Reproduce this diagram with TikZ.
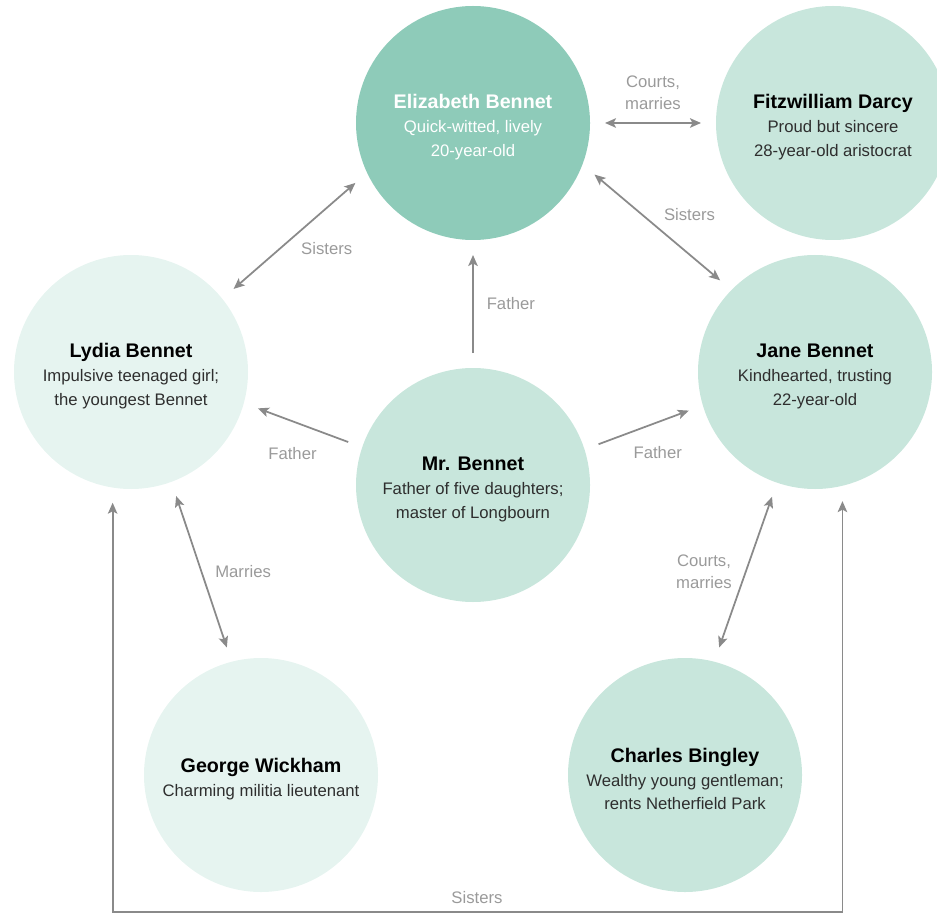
\documentclass[tikz,border=0pt]{standalone}
\usepackage{fontspec}
\setmainfont{Liberation Sans}
\usetikzlibrary{arrows.meta,calc,positioning}
\definecolor{elizgreen}{HTML}{8ECBB9}
\definecolor{midgreen}{HTML}{C8E6DC}
\definecolor{palegreen}{HTML}{E6F4F0}
\definecolor{linkgray}{HTML}{8A8A8A}
\definecolor{labelgray}{HTML}{9A9A9A}
\definecolor{bodytext}{HTML}{2E2E2E}
\tikzset{person/.style={
            circle,
            fill=midgreen,
            text=bodytext,
            inner sep=0pt,
            outer sep=0.3cm,
            minimum size=4.68cm,
            align=center,
            font=\fontsize{9.5}{13.6}\selectfont
        },
        paleperson/.style={
            person,
            fill=palegreen
        },
        link/.style={
            draw=linkgray,
            line width=1pt
        },
        rel/.style={
            text=labelgray,
            align=center,
            font=\fontsize{9.5}{12.5}\selectfont
        }
    }
\newcommand{\pname}[1]{{\rule{0pt}{12.7pt}\fontsize{11.2}{15}\selectfont\bfseries #1}}

\begin{document}
\begin{tikzpicture}[>={Stealth[length=2.2mm,width=1.9mm,inset=0.5mm]}]
\useasboundingbox (0,0) rectangle (18.74,-18.28);
\clip (0,0) rectangle (18.74,-18.28);

% the people
\node[person,fill=elizgreen,text=white] (eliz) at (9.46,-2.46) {\pname{Elizabeth Bennet}\\Quick-witted, lively\\20-year-old};
\node[person] (darcy) at (16.66,-2.46) {\pname{\color{black}Fitzwilliam Darcy}\\Proud but sincere\\28-year-old aristocrat};
\node[paleperson] (lydia) at (2.62,-7.44) {\pname{\color{black}Lydia Bennet}\\Impulsive teenaged girl;\\the youngest Bennet};
\node[person] (jane) at (16.30,-7.44) {\pname{\color{black}Jane Bennet}\\Kindhearted, trusting\\22-year-old};
\node[person] (mrb) at (9.46,-9.70) {\pname{\color{black}Mr. Bennet}\\Father of five daughters;\\master of Longbourn};
\node[paleperson] (wickham) at (5.22,-15.50) {\pname{\color{black}George Wickham}\\Charming militia lieutenant};
\node[person] (bingley) at (13.70,-15.50) {\pname{\color{black}Charles Bingley}\\Wealthy young gentleman;\\rents Netherfield Park};

% relations
\draw[link,<->] (eliz) -- node[rel,above=4pt] {Courts,\\marries} (darcy);
\draw[link,<->] (eliz.-23.5) -- node[rel,above right] {Sisters} (jane.136.5);
\draw[link,<->] (eliz.207.7) -- node[rel,below right] {Sisters} (lydia.39);
\draw[link,->] (mrb) -- node[rel,right=4pt] {Father} (eliz);
\draw[link,->] (mrb.161.4) -- node[rel,below=9pt,xshift=-6pt] {Father} (lydia.-16.7);
\draw[link,->] (mrb.18.6) -- node[rel,below=7pt,xshift=8pt] {Father} (jane.197.8);
\draw[link,<->] (lydia.-70.7) -- node[rel,right=4pt] {Marries} (wickham.105);
\draw[link,<->] (jane.-109.7) -- node[rel,left=4pt] {Courts,\\marries} (bingley.75.4);
\coordinate (base) at (9.54,-18.24);
\draw[link,<->] (lydia.-98) |- (base) node[rel,above=1pt] {Sisters} -| (jane.-78);
\end{tikzpicture}
\end{document}
